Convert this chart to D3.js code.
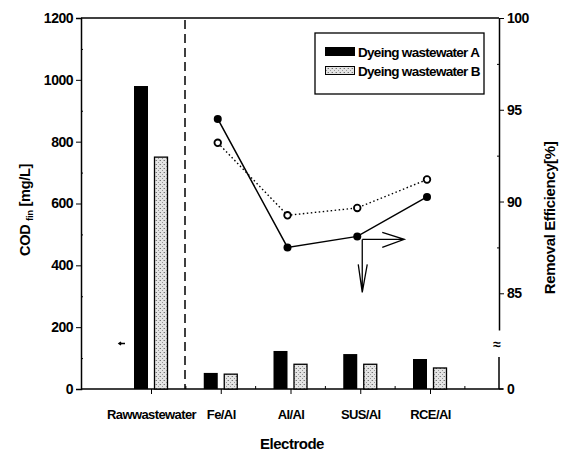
<!DOCTYPE html>
<html><head><meta charset="utf-8">
<script src="https://cdn.jsdelivr.net/npm/d3@7"></script>
<style>
body{margin:0;background:#fff;}
svg{display:block;font-family:"Liberation Sans",Arial,sans-serif;}
text{fill:#000;}
</style></head>
<body>
<script>
const categories = ["Rawwastewater","Fe/Al","Al/Al","SUS/Al","RCE/Al"];
const codA = [980, 52, 123, 113, 97];
const codB = [750, 48, 80, 80, 68];
const effCats = ["Fe/Al","Al/Al","SUS/Al","RCE/Al"];
const effA = [94.5, 87.5, 88.1, 90.25];
const effB = [93.2, 89.25, 89.65, 91.2];
const leftTicks = [0,200,400,600,800,1000,1200];
const leftTickLabels = ["0","200","400","600","800","1000","1200"];
const rightTicks = [85,90,95,100];
const seriesNames = ["Dyeing wastewater A","Dyeing wastewater B"];

const W=563,H=454;
const svg=d3.select("body").append("svg").attr("width",W).attr("height",H);
const defs=svg.append("defs");
const pat=defs.append("pattern").attr("id","stip").attr("width",4).attr("height",4).attr("patternUnits","userSpaceOnUse");
pat.append("rect").attr("width",4).attr("height",4).attr("fill","#e4e4e4");
pat.append("rect").attr("x",0).attr("y",0).attr("width",1).attr("height",1).attr("fill","#777");
pat.append("rect").attr("x",2).attr("y",2).attr("width",1).attr("height",1).attr("fill","#999");
pat.append("rect").attr("x",3).attr("y",0).attr("width",1).attr("height",1).attr("fill","#bbb");

const L=81,R=499,T=18,B=389;
const tickFont="14px", tickSpacing="-0.5px";
const x=d3.scalePoint().domain(categories).range([151,430]);
const yL=d3.scaleLinear().domain([0,1200]).range([B,T]);
const yR=d3.scaleLinear().domain([83,100]).range([330,T]);

// frame lines
svg.append("line").attr("x1",L).attr("x2",R).attr("y1",T).attr("y2",T).attr("stroke","#000").attr("stroke-width",1.5);
svg.append("line").attr("x1",L).attr("x2",503).attr("y1",B).attr("y2",B).attr("stroke","#000").attr("stroke-width",1.5);

// left axis
const gl=svg.append("g").attr("transform",`translate(${L},0)`)
  .call(d3.axisLeft(yL).tickValues(leftTicks).tickFormat((d,i)=>leftTickLabels[i]).tickSize(5).tickPadding(3));
gl.select(".domain").attr("stroke-width",1.5);
gl.selectAll("text").style("font-size",tickFont).style("font-weight","bold").style("letter-spacing",tickSpacing);
svg.append("g").attr("transform",`translate(${L},0)`)
  .call(d3.axisRight(yL).tickValues(d3.range(100,1200,200)).tickFormat("").tickSize(2))
  .select(".domain").remove();

// right axis upper
const gr=svg.append("g").attr("transform",`translate(${R},0)`)
  .call(d3.axisRight(yR).tickValues(rightTicks).tickSize(5).tickPadding(3).tickSizeOuter(0));
gr.select(".domain").attr("stroke-width",1.5);
gr.selectAll("text").style("font-size",tickFont).style("font-weight","bold").style("letter-spacing",tickSpacing);
svg.append("g").attr("transform",`translate(${R},0)`)
  .call(d3.axisLeft(yR).tickValues([87.5,92.5,97.5]).tickFormat("").tickSize(2).tickSizeOuter(0))
  .select(".domain").remove();
// right axis lower segment
svg.append("line").attr("x1",R).attr("x2",R).attr("y1",357).attr("y2",B).attr("stroke","#000").attr("stroke-width",1.5);
svg.append("line").attr("x1",R).attr("x2",R+5).attr("y1",B).attr("y2",B).attr("stroke","#000");
svg.append("text").attr("x",R+8).attr("y",B+5).text("0").style("font-size",tickFont).style("font-weight","bold");
svg.append("text").attr("x",R-2).attr("y",349).attr("text-anchor","middle").text("≈").style("font-size","14px").style("font-weight","bold");

// x axis
const gx=svg.append("g").attr("transform",`translate(0,${B})`)
  .call(d3.axisBottom(x).tickSize(5).tickPadding(16));
gx.select(".domain").remove();
gx.selectAll("text").style("font-size","13px").style("font-weight","bold").style("letter-spacing","-0.6px");
const midTicks=categories.map(c=>x(c)+x.step()/2);
svg.append("g").selectAll("line").data(midTicks).join("line")
  .attr("x1",d=>d).attr("x2",d=>d).attr("y1",B).attr("y2",B-3).attr("stroke","#000");

// dashed separator
svg.append("line").attr("x1",185).attr("x2",185).attr("y1",T+2).attr("y2",B)
  .attr("stroke","#000").attr("stroke-width",1.5).attr("stroke-dasharray","9,5");

// bars
const bw=14;
svg.append("g").selectAll("rect").data(categories).join("rect")
  .attr("x",d=>x(d)-10-bw/2).attr("width",bw)
  .attr("y",(d,i)=>yL(codA[i])).attr("height",(d,i)=>B-yL(codA[i]))
  .attr("fill","#000");
svg.append("g").selectAll("rect").data(categories).join("rect")
  .attr("x",d=>x(d)+10-bw/2+0.5).attr("width",bw-1)
  .attr("y",(d,i)=>yL(codB[i])).attr("height",(d,i)=>B-yL(codB[i]))
  .attr("fill","url(#stip)").attr("stroke","#000").attr("stroke-width",1.3);

// lines
const px=d=>x(d)-3;
const lineA=d3.line().x((d,i)=>px(effCats[i])).y(d=>yR(d));
svg.append("path").datum(effB).attr("d",lineA).attr("fill","none").attr("stroke","#000").attr("stroke-width",1.4).attr("stroke-dasharray","1.5,2.5");
svg.append("path").datum(effA).attr("d",lineA).attr("fill","none").attr("stroke","#000").attr("stroke-width",1.5);
svg.append("g").selectAll("circle").data(effA).join("circle")
  .attr("cx",(d,i)=>px(effCats[i])).attr("cy",d=>yR(d)).attr("r",4).attr("fill","#000");
svg.append("g").selectAll("circle").data(effB).join("circle")
  .attr("cx",(d,i)=>px(effCats[i])).attr("cy",d=>yR(d)).attr("r",3.3).attr("fill","#fff").attr("stroke","#000").attr("stroke-width",1.8);

// arrows at SUS/Al point
const ax=px("SUS/Al")+5, ay=yR(effA[2])+3;
const arr=svg.append("g").attr("fill","none").attr("stroke","#000").attr("stroke-width",1.3);
arr.append("path").attr("d",`M${ax},${ay}H${ax+42}M${ax+20},${ay-7}L${ax+42},${ay}L${ax+20},${ay+8}`);
arr.append("path").attr("d",`M${ax},${ay}V${ay+53}M${ax-4},${ay+25}L${ax},${ay+53}L${ax+5},${ay+25}`);

// small mark
svg.append("path").attr("d","M119,343.5H125M121,342L119,343.5L121,345").attr("stroke","#000").attr("stroke-width",1.5).attr("fill","none");

// legend
const lg=svg.append("g");
lg.append("rect").attr("x",315).attr("y",33).attr("width",169).attr("height",61).attr("fill","#fff").attr("stroke","#000").attr("stroke-width",1.3);
lg.append("rect").attr("x",325).attr("y",47).attr("width",30).attr("height",9).attr("fill","#000");
lg.append("rect").attr("x",325.5).attr("y",66.5).attr("width",29).attr("height",8).attr("fill","url(#stip)").attr("stroke","#000");
lg.selectAll("text").data(seriesNames).join("text")
  .attr("x",358).attr("y",(d,i)=>56.5+i*19).text(d=>d)
  .style("font-size","13.5px").style("font-weight","bold").style("letter-spacing","-0.7px");

// titles
const yt=svg.append("text").attr("transform","translate(30,210) rotate(-90)").attr("text-anchor","middle")
  .style("font-size","14.5px").style("font-weight","bold").style("letter-spacing","-0.3px");
yt.append("tspan").text("COD ");
yt.append("tspan").text("fin").style("font-size","9.5px").attr("dy",3);
yt.append("tspan").text(" [mg/L]").attr("dy",-3);
svg.append("text").attr("transform","translate(555,218) rotate(-90)").attr("text-anchor","middle")
  .text("Removal Efficiency[%]").style("font-size","15px").style("font-weight","bold").style("letter-spacing","-0.4px");
svg.append("text").attr("x",292).attr("y",449).attr("text-anchor","middle").text("Electrode")
  .style("font-size","15px").style("font-weight","bold").style("letter-spacing","-0.5px");
</script>
</body></html>
